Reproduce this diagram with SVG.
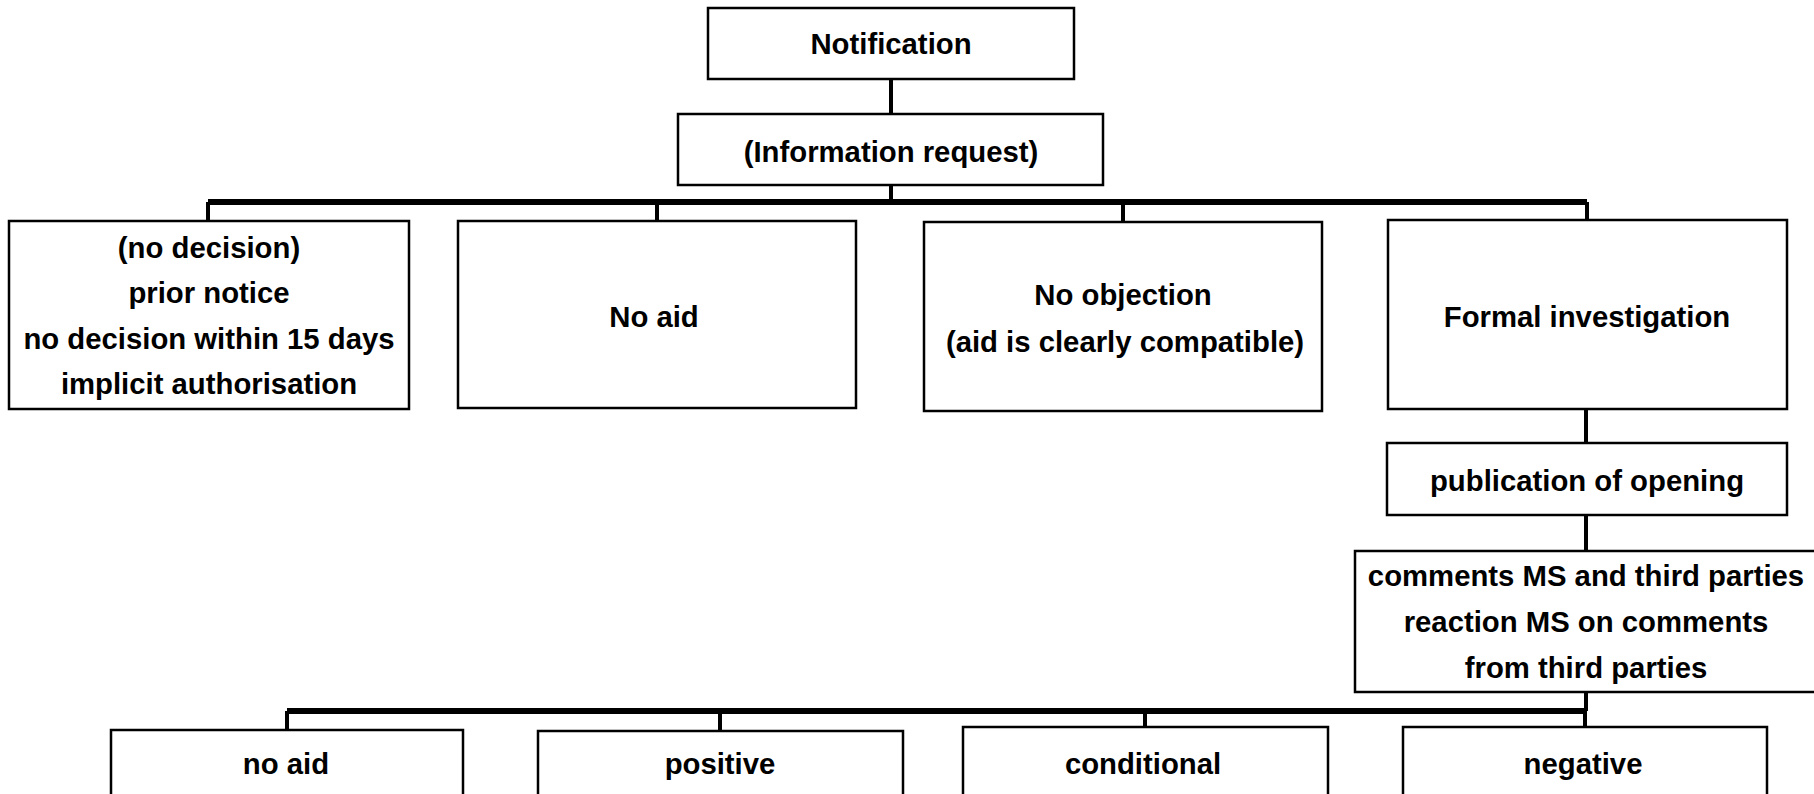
<svg xmlns="http://www.w3.org/2000/svg" width="1814" height="794" viewBox="0 0 1814 794">
<style>
.box{fill:#fff;stroke:#000;stroke-width:2.5}
.t{font-family:"Liberation Sans",Arial,sans-serif;font-weight:bold;font-size:29.3px;fill:#000;text-anchor:middle}
.c{fill:none;stroke:#000;stroke-width:4}
.bar{fill:none;stroke:#000;stroke-width:6}
</style>
<rect width="1814" height="794" fill="#fff"/>
<g id="connectors">
<path class="c" d="M891 79V114M891 185V202"/>
<path class="bar" d="M208 202H1587"/>
<path class="c" d="M208 202V221M657 202V221M1123 202V222M1587 202V220"/>
<path class="c" d="M1586 409V443M1586 515V551M1586 692V711"/>
<path class="bar" d="M287 711H1586"/>
<path class="c" d="M287 711V730M720 711V731M1145 711V727M1585 711V727"/>
</g>
<g id="n-notification"><rect class="box" x="708" y="8" width="366" height="71"/><text class="t" x="891" y="54">Notification</text></g>
<g id="n-info"><rect class="box" x="678" y="114" width="425" height="71"/><text class="t" x="891" y="162">(Information request)</text></g>
<g id="n-nodecision"><rect class="box" x="9" y="221" width="400" height="188"/>
<text class="t" x="209" y="258">(no decision)</text>
<text class="t" x="209" y="303">prior notice</text>
<text class="t" x="209" y="349">no decision within 15 days</text>
<text class="t" x="209" y="394">implicit authorisation</text></g>
<g id="n-noaid"><rect class="box" x="458" y="221" width="398" height="187"/><text class="t" x="654" y="327">No aid</text></g>
<g id="n-noobjection"><rect class="box" x="924" y="222" width="398" height="189"/>
<text class="t" x="1123" y="305">No objection</text>
<text class="t" x="1125" y="352">(aid is clearly compatible)</text></g>
<g id="n-formal"><rect class="box" x="1388" y="220" width="399" height="189"/><text class="t" x="1587" y="327">Formal investigation</text></g>
<g id="n-publication"><rect class="box" x="1387" y="443" width="400" height="72"/><text class="t" x="1587" y="491">publication of opening</text></g>
<g id="n-comments"><rect class="box" x="1355" y="551" width="462" height="141"/>
<text class="t" x="1586" y="586">comments MS and third parties</text>
<text class="t" x="1586" y="632">reaction MS on comments</text>
<text class="t" x="1586" y="678">from third parties</text></g>
<g id="n-noaid2"><rect class="box" x="111" y="730" width="352" height="80"/><text class="t" x="286" y="774">no aid</text></g>
<g id="n-positive"><rect class="box" x="538" y="731" width="365" height="80"/><text class="t" x="720" y="774">positive</text></g>
<g id="n-conditional"><rect class="box" x="963" y="727" width="365" height="80"/><text class="t" x="1143" y="774">conditional</text></g>
<g id="n-negative"><rect class="box" x="1403" y="727" width="364" height="80"/><text class="t" x="1583" y="774">negative</text></g>
</svg>
